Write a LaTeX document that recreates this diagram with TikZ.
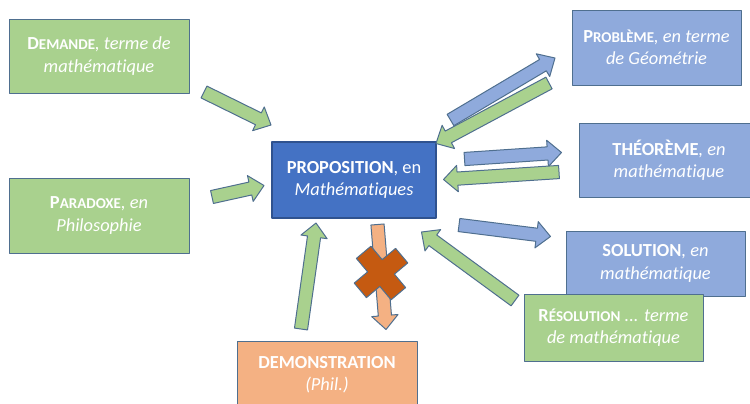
\documentclass[tikz,border=0pt]{standalone}
\usepackage{fontspec}
\setmainfont{Carlito}[RawFeature={-liga;-clig;-calt;-dlig}]
\usetikzlibrary{calc}
\definecolor{vert}{HTML}{A9D18E}
\definecolor{bleu}{HTML}{8FAADC}
\definecolor{bleufonce}{HTML}{4472C4}
\definecolor{saumon}{HTML}{F4B183}
\definecolor{rouille}{HTML}{C55A11}
\definecolor{bord}{HTML}{4F6F8F}
\definecolor{bordfonce}{HTML}{2F528F}
\newlength{\shw}
\setlength{\shw}{3.3pt}
\newlength{\hdw}
\setlength{\hdw}{6.6pt}
\newlength{\hdl}
\setlength{\hdl}{7pt}
\tikzstyle{every picture}+=[x=0.5pt,y=-0.5pt]
\tikzstyle{every picture}+=[line join=round]
\tikzstyle{box}+=[draw=bord, line width=0.5pt, text=white]
\tikzstyle{box}+=[align=center, inner sep=0pt]
\tikzstyle{box}+=[font=\fontsize{9.2}{11.2}\selectfont]
\tikzstyle{vbox}=[box, fill=vert]
\tikzstyle{bbox}=[box, fill=bleu]
\tikzstyle{fleche}+=[draw=bord, line width=0.5pt]
\tikzstyle{fvert}=[fleche, fill=vert]
\tikzstyle{fbleu}=[fleche, fill=bleu]
\tikzstyle{fsaumon}=[fleche, fill=saumon]
\newcommand{\psc}[2]{\textbf{#1{\fontsize{7.5}{11.2}\selectfont #2}}}
\newcommand{\blockarrow}[3]{%
  \coordinate (h) at ($(#3)!\hdl!(#2)$);
  \draw[#1] ($(#2)!\shw!90:(#3)$) -- ($(h)!\shw!-90:(#2)$) -- ($(h)!\hdw!-90:(#2)$)
    -- (#3) -- ($(h)!\hdw!90:(#2)$) -- ($(h)!\shw!90:(#2)$) -- ($(#2)!\shw!-90:(#3)$) -- cycle;}
\begin{document}
\begin{tikzpicture}
\useasboundingbox (0,0) rectangle (750,403);
\clip (0,0) rectangle (750,403);

\node[vbox, minimum width=90pt, minimum height=37pt] (demande) at (99,56)
  {\psc{D}{EMANDE}\textit{, terme de}\\\textit{mathématique}};
\node[vbox, minimum width=90pt, minimum height=37.5pt] (paradoxe) at (99,215.5)
  {\psc{P}{ARADOXE}\textit{, en}\\\textit{Philosophie}};
\node[bbox, minimum width=84.5pt, minimum height=37.5pt] (probleme) at (656.5,47.5)
  {\psc{P}{ROBLÈME}\textit{, en terme}\\\textit{de Géométrie}};
\node[bbox, minimum width=90pt, minimum height=37pt] (theoreme) at (669,160)
  {\textbf{THÉORÈME}\textit{, en}\\\textit{mathématique}};
\node[bbox, minimum width=89.5pt, minimum height=32.5pt] (solution) at (655.5,263.5)
  {\textbf{SOLUTION}\textit{, en}\\\textit{mathématique}};
\node[vbox, minimum width=89.5pt, minimum height=33.5pt] (resolution) at (613.5,327.5)
  {\psc{R}{ÉSOLUTION} \textit{... terme}\\\textit{de mathématique}};
\node[box, fill=bleufonce, draw=bordfonce, line width=1.2pt, minimum width=82pt, minimum height=38pt]
  (prop) at (354,180) {\textbf{PROPOSITION}, en\\\textit{Mathématiques}};
\node[box, fill=saumon, minimum width=90pt, minimum height=33.5pt] (demo) at (327,374.5)
  {\textbf{DEMONSTRATION}\\\textit{(Phil.)}};

% extremites des fleches
\coordinate (t1) at (204,92);    \coordinate (p1) at (271,125);
\coordinate (t2) at (212,197);   \coordinate (p2) at (264,185.5);
\coordinate (t3) at (450.5,120); \coordinate (p3) at (555,58);
\coordinate (t4) at (549,83);    \coordinate (p4) at (436,143.5);
\coordinate (t5) at (464.5,159); \coordinate (p5) at (561.5,152.5);
\coordinate (t6) at (559,172);   \coordinate (p6) at (443.5,179.5);
\coordinate (t7) at (459,225);   \coordinate (p7) at (550.5,236.5);
\coordinate (t8) at (515,300.5); \coordinate (p8) at (421.5,232);
\coordinate (t9) at (301,329);   \coordinate (p9) at (316,223);
\coordinate (t10) at (377.5,224.5); \coordinate (p10) at (386,329.5);

\blockarrow{fvert}{t1}{p1}
\blockarrow{fvert}{t2}{p2}
\blockarrow{fbleu}{t3}{p3}
\blockarrow{fvert}{t4}{p4}
\blockarrow{fbleu}{t5}{p5}
\blockarrow{fvert}{t6}{p6}
\blockarrow{fbleu}{t7}{p7}
\blockarrow{fvert}{t8}{p8}
\blockarrow{fvert}{t9}{p9}
\blockarrow{fsaumon}{t10}{p10}

% croix
\coordinate (x) at (381,273);
\draw[fleche, fill=rouille, shift={(x)}, rotate=40]
  (9.5,27) -- (9.5,9.5) -- (27,9.5) -- (27,-9.5) -- (9.5,-9.5) -- (9.5,-27) -- (-9.5,-27)
  -- (-9.5,-9.5) -- (-27,-9.5) -- (-27,9.5) -- (-9.5,9.5) -- (-9.5,27) -- cycle;
\end{tikzpicture}
\end{document}
